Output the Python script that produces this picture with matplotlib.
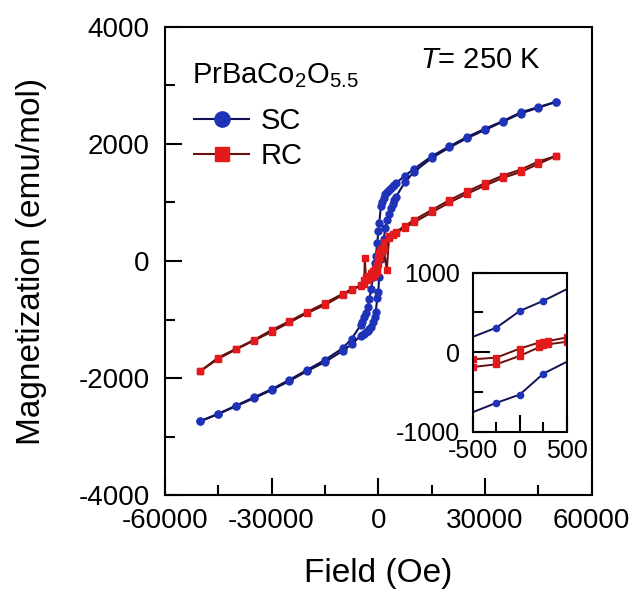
import matplotlib
matplotlib.use("Agg")
import matplotlib.pyplot as plt
from matplotlib.lines import Line2D
from matplotlib.ticker import MultipleLocator

plt.rcParams['font.family'] = ['Liberation Sans', 'DejaVu Sans']
plt.rcParams['mathtext.fontset'] = 'custom'
plt.rcParams['mathtext.rm'] = 'Liberation Sans'
plt.rcParams['mathtext.it'] = 'Liberation Sans:italic'
plt.rcParams['axes.unicode_minus'] = False

# SC, field sweep down (upper branch)
sc_down_h = [50000, 45000, 40000, 35000, 30000, 25000, 20000, 15000, 10000, 7500,
             5000, 4500, 4000, 3500, 3000, 2500, 2000, 1500, 1000, 750, 250, 0,
             -250, -750, -1000, -1500, -2000, -2500, -3000, -3500, -4000, -4500, -5000, -7500,
             -10000, -15000, -20000, -25000, -30000, -35000, -40000, -45000, -50000]
sc_down_m = [2720, 2630, 2540, 2390, 2260, 2120, 1960, 1790, 1570, 1460,
             1330, 1305, 1280, 1250, 1220, 1180, 1140, 1080, 1000, 940, 646, 519,
             308, 80, -40, -280, -480, -650, -780, -880, -960, -1040, -1100, -1330,
             -1490, -1690, -1860, -2030, -2190, -2330, -2470, -2610, -2735]
# SC, field sweep up (lower branch)
sc_up_h = [-50000, -45000, -40000, -35000, -30000, -25000, -20000, -15000, -10000, -7500,
           -5000, -4500, -4000, -3500, -3000, -2500, -2000, -1500, -1000, -750, -250, 0,
           250, 750, 1000, 1500, 2000, 2500, 3000, 3500, 4000, 4500, 5000, 7500,
           10000, 15000, 20000, 25000, 30000, 35000, 40000, 45000, 50000]
sc_up_m = [-2735, -2615, -2480, -2345, -2205, -2050, -1880, -1725, -1535, -1420,
           -1280, -1260, -1240, -1215, -1190, -1160, -1120, -1050, -950, -870, -637, -532,
           -270, 30, 150, 380, 560, 700, 810, 900, 980, 1040, 1100, 1350,
           1520, 1760, 1940, 2100, 2240, 2380, 2520, 2620, 2720]

# RC, field sweep down
rc_down_h = [50000, 45000, 40000, 35000, 30000, 25000, 20000, 15000, 10000, 7500,
             5000, 4000, 3000, 2000, 1500, 1000, 500, 300, 250, 200, 0,
             -250, -500, -1000, -1500, -2000, -3000, -3500, -3800, -3900, -5000,
             -7500, -10000, -15000, -20000, -25000, -30000, -35000, -40000, -45000, -50000]
rc_down_m = [1795, 1700, 1560, 1460, 1330, 1190, 1040, 870, 700, 600,
             500, 470, 430, 330, 280, 230, 186, 140, 131, 120, 46,
             -68, -89, -130, -170, -210, -260, -280, 50, -320, -410,
             -500, -580, -750, -890, -1050, -1210, -1360, -1510, -1670, -1880]
# RC, field sweep up
rc_up_h = [-50000, -45000, -40000, -35000, -30000, -25000, -20000, -15000, -10000, -7500,
           -5000, -4000, -3000, -2000, -1500, -1000, -500, -250, 0, 200, 250, 300,
           500, 1000, 1500, 2400, 3000, 4000, 5000, 7500,
           10000, 15000, 20000, 25000, 30000, 35000, 40000, 45000, 50000]
rc_up_m = [-1880, -1650, -1500, -1350, -1180, -1030, -870, -720, -560, -480,
           -430, -400, -330, -280, -250, -220, -186, -152, -46, 60, 89, 100,
           131, 170, 200, -150, 400, 450, 480, 570,
           660, 830, 1000, 1150, 1290, 1420, 1520, 1660, 1795]

sc_line, sc_mark = '#121255', '#1f33b8'
rc_line, rc_mark = '#6a0e0e', '#e31a1c'


def draw(ax, ms, lw):
    for h, m in [(sc_down_h, sc_down_m), (sc_up_h, sc_up_m)]:
        ax.plot(h, m, '-o', color=sc_line, lw=lw, ms=ms,
                mfc=sc_mark, mec=sc_mark)
    for h, m in [(rc_down_h, rc_down_m), (rc_up_h, rc_up_m)]:
        ax.plot(h, m, '-s', color=rc_line, lw=lw, ms=ms,
                mfc=rc_mark, mec=rc_mark)


def style(ax, size):
    for s in ax.spines.values():
        s.set_linewidth(1.5)
    ax.tick_params(which='both', direction='in', width=1.5, labelsize=size)
    ax.tick_params(which='major', length=12)
    ax.tick_params(which='minor', length=7)


fig = plt.figure(figsize=(6.39, 5.98), dpi=100)
ax = fig.add_axes([0.258, 0.172, 0.668, 0.783])
draw(ax, 5, 1.5)
ax.set_xlim(-60000, 60000)
ax.set_ylim(-4000, 4000)
ax.set_xticks([-60000, -30000, 0, 30000, 60000])
ax.set_yticks([-4000, -2000, 0, 2000, 4000])
ax.xaxis.set_minor_locator(MultipleLocator(15000))
ax.yaxis.set_minor_locator(MultipleLocator(1000))
style(ax, 20)
ax.tick_params(axis='x', pad=9)
ax.tick_params(axis='y', pad=11)
ax.set_xlabel('Field (Oe)', fontsize=24)
ax.set_ylabel('Magnetization (emu/mol)', fontsize=24)
ax.xaxis.set_label_coords(0.5, -0.135)
ax.yaxis.set_label_coords(-0.275, 0.5)

ax.text(0.74, 0.93, '$T$= 250 K', transform=ax.transAxes, fontsize=21,
        ha='center', va='center')
ax.text(0.063, 0.897, 'PrBaCo$_2$O$_{5.5}$', transform=ax.transAxes,
        fontsize=21, ha='left', va='center')

handles = [Line2D([], [], color=sc_line, lw=1.5, marker='o', ms=11,
                  mfc=sc_mark, mec=sc_mark),
           Line2D([], [], color=rc_line, lw=1.5, marker='s', ms=10,
                  mfc=rc_mark, mec=rc_mark)]
leg = ax.legend(handles, ['SC', 'RC'], loc='upper left',
                bbox_to_anchor=(0.068, 0.829),
                frameon=False, fontsize=21,
                borderpad=0, borderaxespad=0, handlelength=1.9,
                handletextpad=0.4, labelspacing=0.25)

ins = fig.add_axes([0.740, 0.278, 0.147, 0.266])
draw(ins, 4.5, 1.4)
ins.set_xlim(-500, 500)
ins.set_ylim(-1000, 1000)
ins.set_xticks([-500, 0, 500])
ins.set_yticks([-1000, 0, 1000])
ins.xaxis.set_minor_locator(MultipleLocator(250))
ins.yaxis.set_minor_locator(MultipleLocator(500))
style(ins, 18)
ins.tick_params(axis='x', pad=5)
ins.tick_params(axis='y', pad=9)

fig.savefig('out.png', dpi=100)
